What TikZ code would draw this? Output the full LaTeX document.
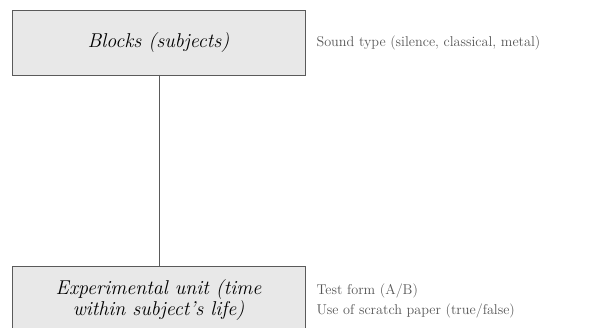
\documentclass[tikz,border=0pt]{standalone}
\usepackage{xcolor}
\definecolor{boxfill}{HTML}{E8E8E8}
\definecolor{boxline}{HTML}{5A5A5A}
\definecolor{sidetext}{HTML}{555555}
\begin{document}
\begin{tikzpicture}[x=1pt,y=-1pt,
  unitbox/.style={draw=boxline,fill=boxfill,line width=0.9pt},
  boxtext/.style={font=\fontsize{20}{20.5}\selectfont\itshape,align=center,text=black},
  sidelabel/.style={font=\fontsize{14.2}{19.5}\selectfont,text=sidetext,anchor=west,align=left}]
\useasboundingbox (0,0) rectangle (599,328);
\clip (0,0) rectangle (599,328);
\draw[unitbox] (12,10) rectangle (305,75);
\draw[unitbox] (12,266) rectangle (305,345);
\coordinate (topbot) at (159,75);
\coordinate (bottop) at (159,266);
\draw[boxline,line width=0.9pt] (topbot) -- (bottop);
\node[boxtext] (blocks) at (158.5,43) {Blocks (subjects)};
\node[boxtext] (unit) at (158.5,300) {Experimental unit (time\\within subject's life)};
\node[sidelabel] (sound) at (313,43) {Sound type (silence, classical, metal)};
\node[sidelabel] (test) at (313,301) {Test form (A/B)\\Use of scratch paper (true/false)};
\end{tikzpicture}
\end{document}
